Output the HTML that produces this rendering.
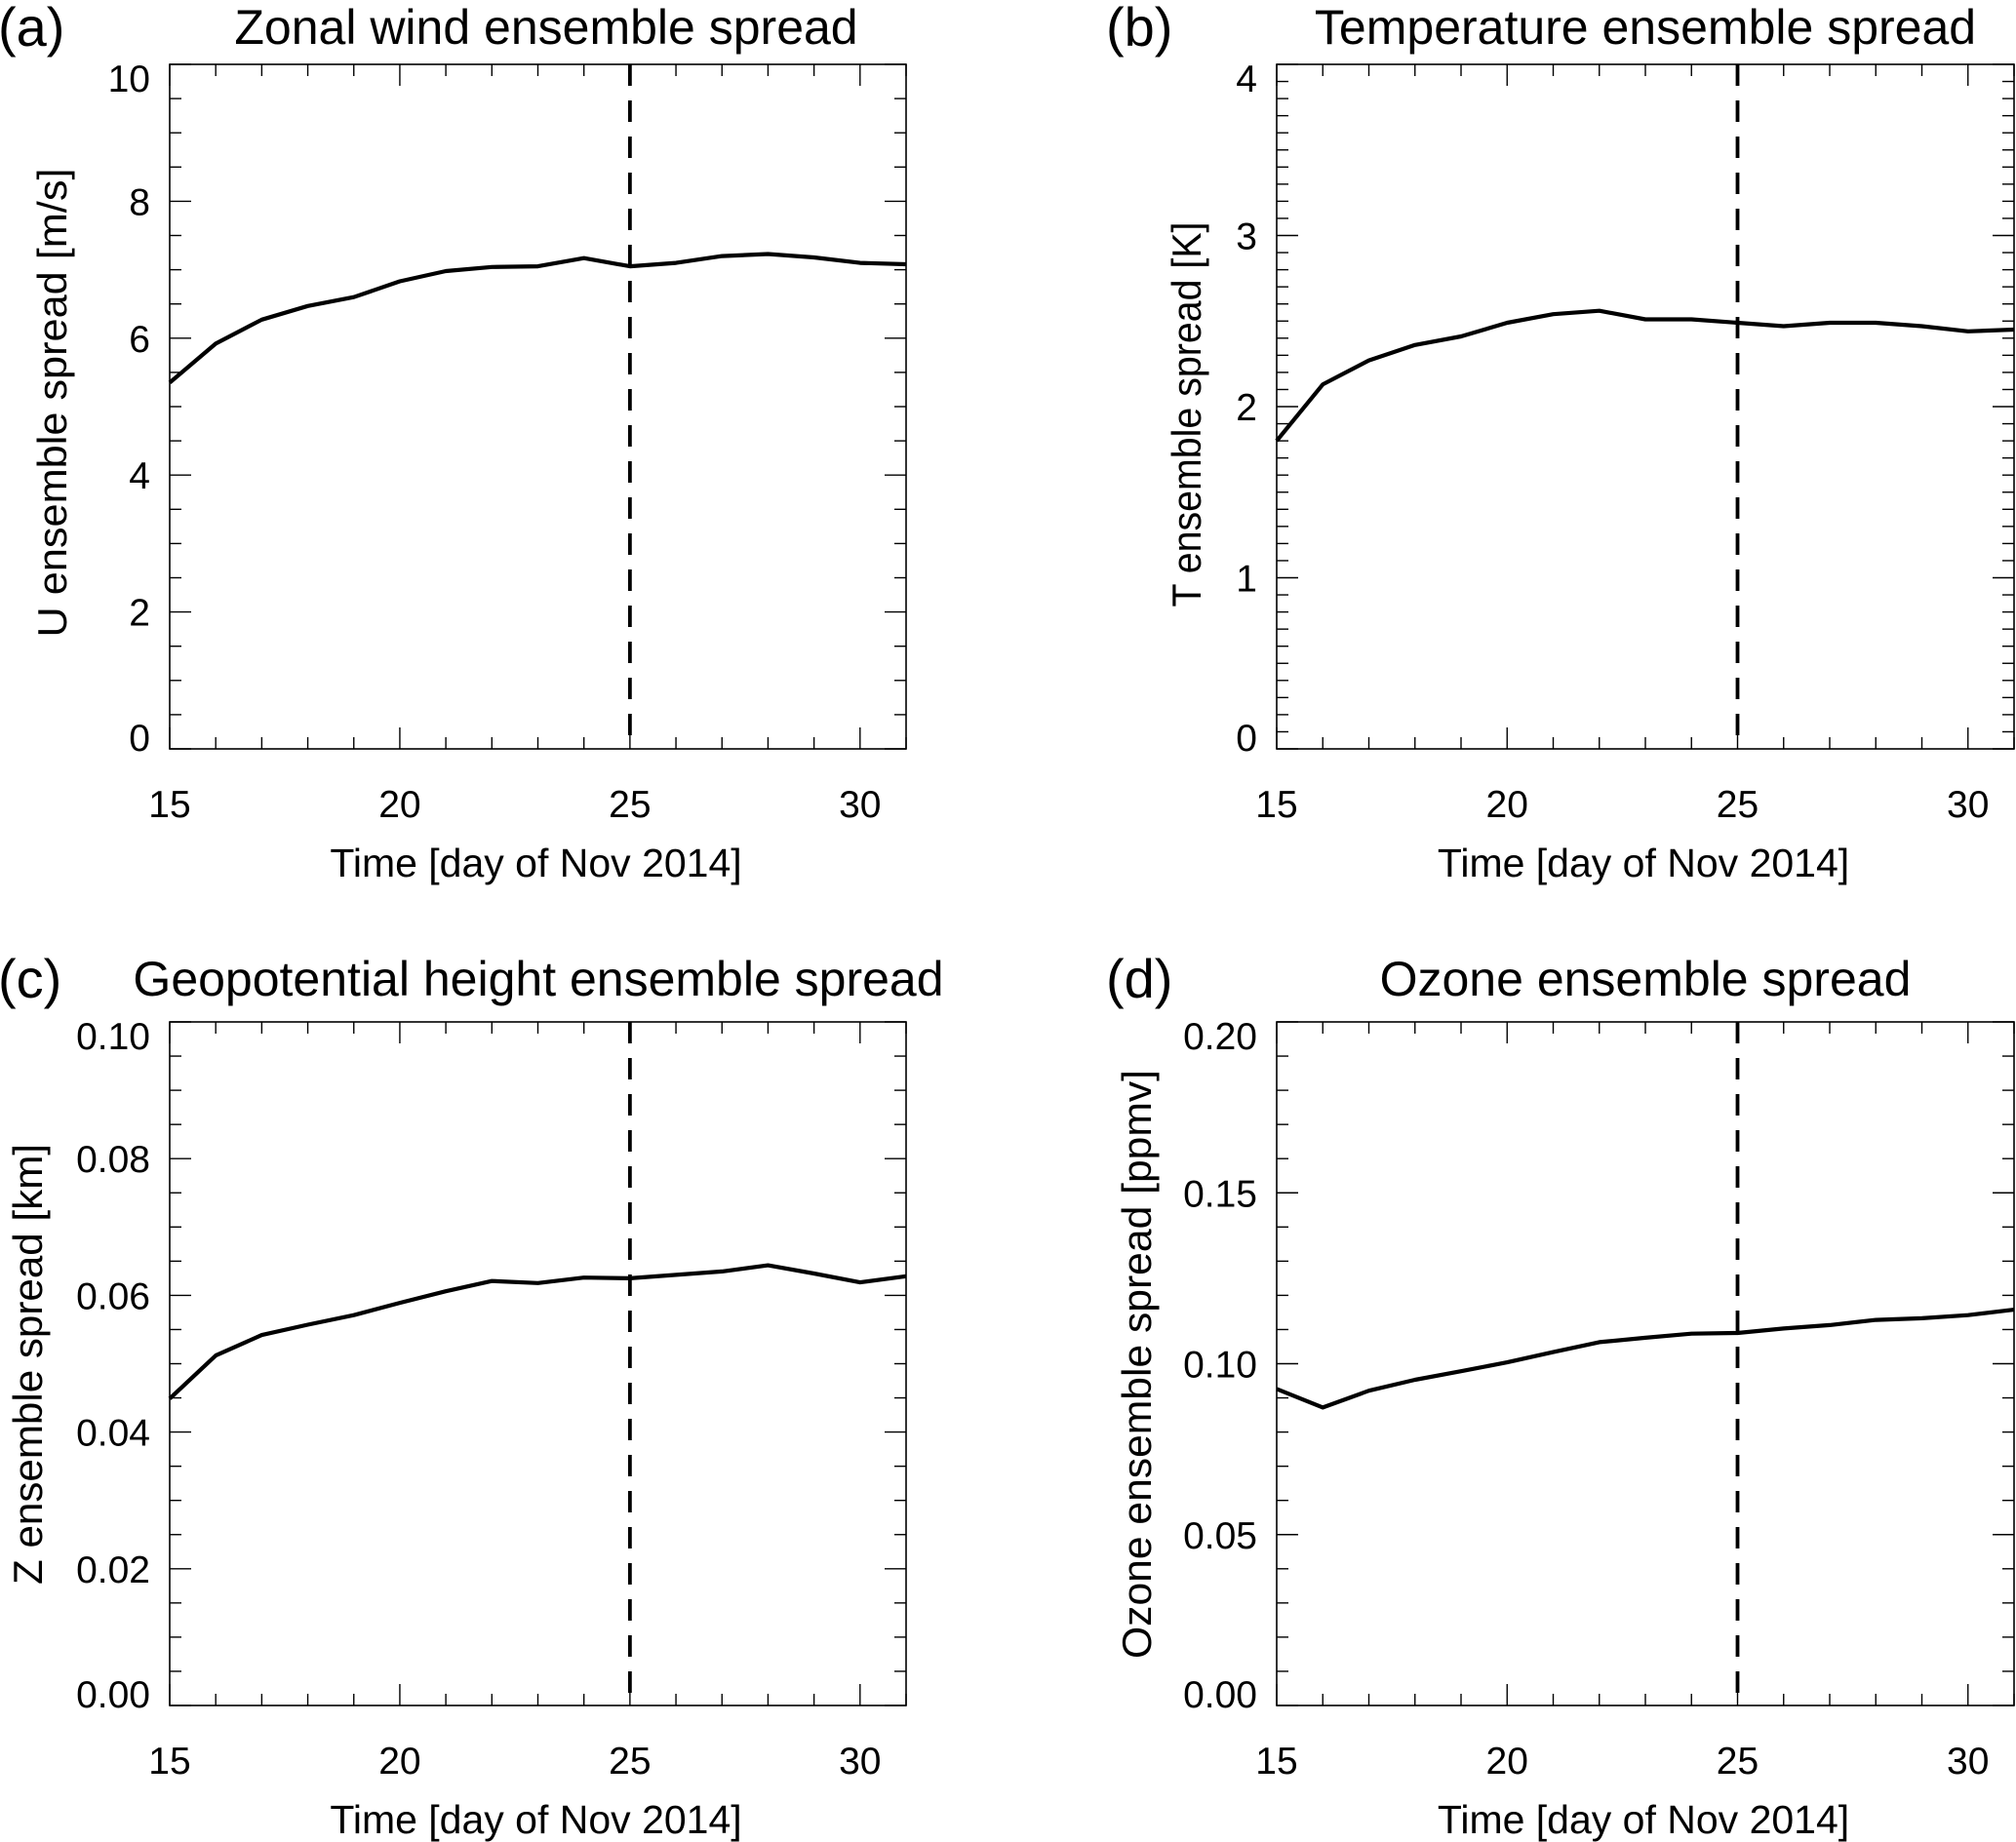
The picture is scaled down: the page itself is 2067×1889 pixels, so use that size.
<!DOCTYPE html>
<html><head><meta charset="utf-8"><style>
html,body{margin:0;padding:0;background:#fff}
svg{display:block}
text{font-family:"Liberation Sans",sans-serif;fill:#000}
</style></head><body>
<svg id="fig" width="2067" height="1889" viewBox="0 0 2067 1889" xmlns="http://www.w3.org/2000/svg"></svg>
<script>
const days = [15,16,17,18,19,20,21,22,23,24,25,26,27,28,29,30,31];
const uSpread = [5.35,5.92,6.27,6.47,6.6,6.83,6.98,7.04,7.05,7.17,7.05,7.1,7.2,7.23,7.18,7.1,7.08];
const tSpread = [1.80,2.13,2.27,2.36,2.41,2.49,2.54,2.56,2.51,2.51,2.49,2.47,2.49,2.49,2.47,2.44,2.45];
const zSpread = [0.0449,0.0512,0.0542,0.0557,0.0571,0.0589,0.0606,0.0621,0.0618,0.0626,0.0625,0.063,0.0635,0.0644,0.0632,0.0619,0.0628];
const oSpread = [0.0926,0.0872,0.0921,0.0953,0.0978,0.1004,0.1034,0.1063,0.1076,0.1088,0.109,0.1103,0.1113,0.1128,0.1133,0.1142,0.1158];
const xTickLabels = ["15","20","25","30"];
const xTickValues = [15,20,25,30];
const uTicks = ["0","2","4","6","8","10"];
const tTicks = ["0","1","2","3","4"];
const zTicks = ["0.00","0.02","0.04","0.06","0.08","0.10"];
const oTicks = ["0.00","0.05","0.10","0.15","0.20"];
const markerDay = 25;

const NS = "http://www.w3.org/2000/svg";
const svg = document.getElementById('fig');
function mk(tag, attrs, parent){const e=document.createElementNS(NS,tag);for(const k in attrs)e.setAttribute(k,attrs[k]);(parent||svg).appendChild(e);return e;}

const panels = [
 {id:'a',L:174,R:929,T:66,B:768,ymin:0,ymax:10,major:2,minor:0.5,ticks:uTicks,vals:uSpread,title:'Zonal wind ensemble  spread',ylab:'U ensemble  spread [m/s]',tx:560,ty:27,lx:0,ylb:68,yly:413,ylen:481},
 {id:'b',L:1309,R:2065,T:66,B:768,ymin:0,ymax:4,major:1,minor:0.1,ticks:tTicks,vals:tSpread,title:'Temperature ensemble  spread',ylab:'T ensemble  spread [K]',tx:1687,ty:27,lx:1136,ylb:1231,yly:425,ylen:395},
 {id:'c',L:174,R:929,T:1048,B:1749,ymin:0,ymax:0.1,major:0.02,minor:0.005,ticks:zTicks,vals:zSpread,title:'Geopotential height ensemble  spread',ylab:'Z ensemble spread [km]',tx:552,ty:1003,lx:0,ylb:43,yly:1399,ylen:452},
 {id:'d',L:1309,R:2065,T:1048,B:1749,ymin:0,ymax:0.2,major:0.05,minor:0.01,ticks:oTicks,vals:oSpread,title:'Ozone ensemble  spread',ylab:'Ozone ensemble spread  [ppmv]',tx:1687,ty:1003,lx:1136,ylb:1180,yly:1399,ylen:604}
];

panels.forEach(p=>{
  const g = mk('g',{});
  
  
  const xs = d => p.L + (d-15)/(31-15)*(p.R-p.L);
  const ys = v => p.B - (v-p.ymin)/(p.ymax-p.ymin)*(p.B-p.T);
  const fr = mk('rect',{x:p.L,y:p.T,width:p.R-p.L,height:p.B-p.T,fill:'none',stroke:'#000','stroke-width':1.6},g);
  
  
  for(let d=15; d<=31; d++){
    const len = (d%5===0)?22:12;
    const x = xs(d);
    mk('line',{x1:x,y1:p.B,x2:x,y2:p.B-len,stroke:'#000','stroke-width':1.4},g);
    mk('line',{x1:x,y1:p.T,x2:x,y2:p.T+len,stroke:'#000','stroke-width':1.4},g);
  }
  xTickValues.forEach((v,i)=>{
    const t = mk('text',{x:xs(v),y:p.B+70,'font-size':39,'text-anchor':'middle'},g);
    t.textContent = xTickLabels[i];
    
    
  });
  const nMin = Math.round((p.ymax-p.ymin)/p.minor);
  const ratio = Math.round(p.major/p.minor);
  for(let i=0;i<=nMin;i++){
    const y = ys(p.ymin + i*p.minor);
    const len = (i%ratio===0)?22:12;
    mk('line',{x1:p.L,y1:y,x2:p.L+len,y2:y,stroke:'#000','stroke-width':1.4},g);
    mk('line',{x1:p.R,y1:y,x2:p.R-len,y2:y,stroke:'#000','stroke-width':1.4},g);
  }
  p.ticks.forEach((lab,i)=>{
    let y = ys(p.ymin + i*p.major) + 14;
    if(i===p.ticks.length-1) y += 14;
    if(i===0) y -= 12;
    const t = mk('text',{x:p.L-20,y:y,'font-size':39,'text-anchor':'end'},g);
    t.textContent = lab;
    
    
  });
  const dl = mk('line',{x1:xs(markerDay),y1:p.T,x2:xs(markerDay),y2:p.B,stroke:'#000','stroke-width':3.8,'stroke-dasharray':'22 15'},g);
  
  
  const pts = days.map((d,i)=>xs(d).toFixed(1)+','+ys(p.vals[i]).toFixed(1)).join(' ');
  const pl = mk('polyline',{points:pts,fill:'none',stroke:'#000','stroke-width':4.2,'stroke-linejoin':'round'},g);
  
  
  const tt = mk('text',{x:p.tx,y:p.ty+18,'font-size':50,'text-anchor':'middle','xml:space':'preserve'},g);
  tt.textContent = p.title;
  
  
  const pl2 = mk('text',{x:p.lx-2,y:p.ty+20,'font-size':56},g);
  pl2.textContent = '('+p.id+')';
  
  
  const xl = mk('text',{x:(p.L+p.R)/2-2,y:p.B+131,'font-size':41,'text-anchor':'middle'},g);
  xl.textContent = 'Time [day of Nov 2014]';
  
  
  const yl = mk('text',{x:0,y:0,'font-size':42,'text-anchor':'middle','xml:space':'preserve',textLength:p.ylen,lengthAdjust:'spacingAndGlyphs',transform:'translate('+p.ylb+','+p.yly+') rotate(-90)'},g);
  yl.textContent = p.ylab;
  
  
});
</script>
</body></html>
